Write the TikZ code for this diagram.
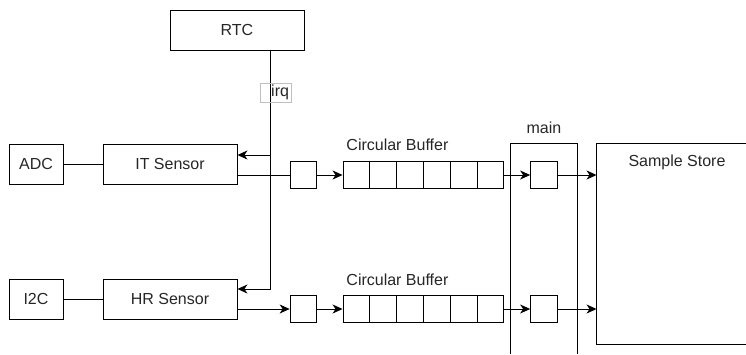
\documentclass[tikz,border=0pt]{standalone}
\usepackage{fontspec}
\setmainfont{Liberation Sans}
\usetikzlibrary{arrows.meta}
\begin{document}
\begin{tikzpicture}[x=1pt, y=-1pt, line width=0.9pt,
    every node/.style={inner sep=1pt, font=\fontsize{16}{19}\selectfont, text=black!85},
    box/.style={draw, rectangle, minimum height=40pt},
    cell/.style={draw, rectangle, minimum width=26.8pt, minimum height=26.5pt},
    >={Stealth[length=10pt, width=9pt, inset=3pt]},
    arr/.style={->}]
  \useasboundingbox (0,0) rectangle (746,354);
  \node[box, minimum width=134pt] (rtc) at (237,30) {RTC};
  \node[box, minimum width=54pt] (adc) at (36,164) {ADC};
  \node[box, minimum width=134pt] (its) at (170,164) {IT Sensor};
  \node[box, minimum width=54pt] (i2c) at (36,299) {I2C};
  \node[box, minimum width=134pt] (hrs) at (170,299) {HR Sensor};
  \node[draw=none, minimum width=66pt, minimum height=210pt] (mainbox) at (544,249) {};
  \node (mainlbl) at (544,128) {main};
  \node[draw=none, minimum width=149pt, minimum height=200pt] (store) at (671.5,244) {};
  \node (storelbl) at (677,162) {Sample Store};
  % IT row
  \node[cell] (itin) at (303.5,175) {};
  \node[cell] (itb1) at (356.4,175) {};
  \node[cell] (itb2) at (383.2,175) {};
  \node[cell] (itb3) at (410.0,175) {};
  \node[cell] (itb4) at (436.8,175) {};
  \node[cell] (itb5) at (463.6,175) {};
  \node[cell] (itb6) at (490.4,175) {};
  \node[cell] (itmain) at (544,175) {};
  \node[anchor=west] (itbuflbl) at (345,145) {Circular Buffer};
  % HR row
  \node[cell] (hrin) at (303.5,309) {};
  \node[cell] (hrb1) at (356.4,309) {};
  \node[cell] (hrb2) at (383.2,309) {};
  \node[cell] (hrb3) at (410.0,309) {};
  \node[cell] (hrb4) at (436.8,309) {};
  \node[cell] (hrb5) at (463.6,309) {};
  \node[cell] (hrb6) at (490.4,309) {};
  \node[cell] (hrmain) at (544,309) {};
  \node[anchor=west] (hrbuflbl) at (345,280) {Circular Buffer};
  % open boxes
  \draw (mainbox.south west) -- (mainbox.north west) -- (mainbox.north east) -- (mainbox.south east);
  \draw (store.north east) -- (store.north west) -- (store.south west) -- (store.south east);
  % irq line
  \coordinate (tap) at ([xshift=33pt]rtc.south);
  \coordinate (itsin) at ([yshift=9pt]its.east);
  \coordinate (itsout) at ([yshift=-11pt]its.east);
  \coordinate (hrsin) at ([yshift=10pt]hrs.east);
  \coordinate (hrsout) at ([yshift=-10pt]hrs.east);
  \draw[arr] (tap) |- (hrsin);
  \draw[arr] (tap |- itsin) -- (itsin);
  \node[draw=black!25, line width=0.6pt, minimum width=31pt, minimum height=19pt,
        text width=27pt, align=right, inner sep=2pt] (irq) at (275.5,92.5) {irq};
  % connections
  \draw (adc) -- (its);
  \draw (i2c) -- (hrs);
  \draw (itsout) -- (itin.west);
  \draw[arr] (hrsout) -- (hrin.west);
  \draw[arr] (itin) -- (itb1);
  \draw[arr] (hrin) -- (hrb1);
  \draw[arr] (itb6) -- (itmain);
  \draw[arr] (hrb6) -- (hrmain);
  \draw[arr] (itmain) -- (itmain -| store.west);
  \draw[arr] (hrmain) -- (hrmain -| store.west);
\end{tikzpicture}
\end{document}
